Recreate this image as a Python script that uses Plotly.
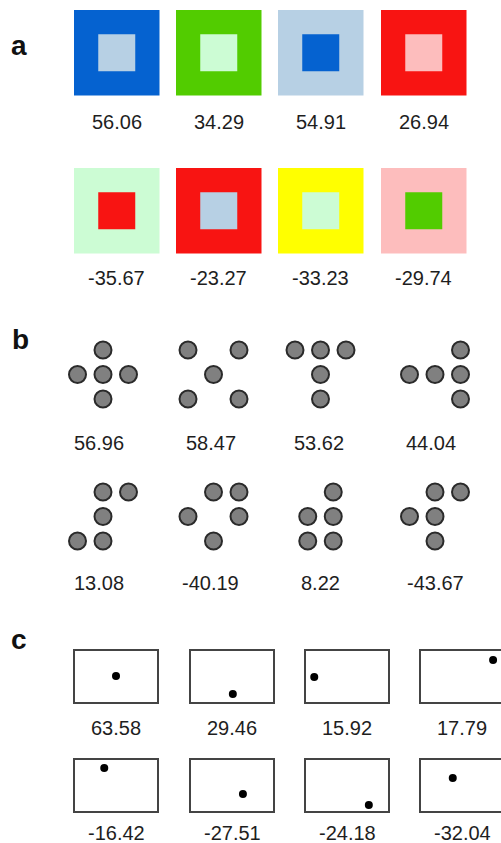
import plotly.graph_objects as go

W, H = 501, 843

# ---------------- data ----------------
# Panel a: outer / inner colours of the nested squares, and their values
a_outer = [["#0562D0", "#52CC00", "#B7D0E4", "#F81412"],
           ["#CCFCD4", "#F81412", "#FFFF00", "#FDBDBD"]]
a_inner = [["#B7D0E4", "#CCFCD4", "#0562D0", "#FDBDBD"],
           ["#F81412", "#B7D0E4", "#CCFCD4", "#52CC00"]]
a_values = [[56.06, 34.29, 54.91, 26.94],
            [-35.67, -23.27, -33.23, -29.74]]

# Panel b: dot patterns as (column, row) cells of a 3x3 grid, and values
b_patterns = [
    [[(1, 0), (0, 1), (1, 1), (2, 1), (1, 2)],
     [(0, 0), (2, 0), (1, 1), (0, 2), (2, 2)],
     [(0, 0), (1, 0), (2, 0), (1, 1), (1, 2)],
     [(2, 0), (0, 1), (1, 1), (2, 1), (2, 2)]],
    [[(1, 0), (2, 0), (1, 1), (0, 2), (1, 2)],
     [(1, 0), (2, 0), (0, 1), (2, 1), (1, 2)],
     [(1, 0), (0, 1), (1, 1), (0, 2), (1, 2)],
     [(1, 0), (2, 0), (0, 1), (1, 1), (1, 2)]],
]
b_values = [[56.96, 58.47, 53.62, 44.04],
            [13.08, -40.19, 8.22, -43.67]]

# Panel c: relative dot position inside each frame (0..1), and values
c_dot_x = [[0.50, 0.51, 0.11, 0.87],
           [0.36, 0.63, 0.76, 0.39]]
c_dot_y = [[0.49, 0.83, 0.51, 0.19],
           [0.17, 0.66, 0.87, 0.36]]
c_values = [[63.58, 29.46, 15.92, 17.79],
            [-16.42, -27.51, -24.18, -32.04]]

panel_labels = ["a", "b", "c"]

# ---------------- layout constants ----------------
FONT = "Liberation Sans, Arial, sans-serif"
TXT = "#1e1e1e"
NUM_SIZE = 20

A_X0 = [74, 176, 278, 381]
A_Y0 = [10, 168]
A_OUT = 85.5
A_IN = 37
A_LABEL_Y = [122, 278]

B_CX = [103, 213.5, 320.5, 435]
B_Y0 = [350, 492]
B_DX, B_DY = 25.5, 24.5
B_LABEL_X = [[99, 211, 319, 431], [99, 210, 320, 435]]
B_LABEL_Y = [443, 583]

C_X0 = [74, 190, 305, 420]
C_Y0 = [650, 759]
C_W, C_H = 84, 53
C_LABEL_Y = [728, 833]

PANEL_POS = [(19, 45), (20, 339), (19, 639)]

fig = go.Figure()
shapes = []
annotations = []


def num_label(x, y, v):
    annotations.append(dict(x=x, y=y, text=f"{v:.2f}", showarrow=False,
                            xanchor="center", yanchor="middle",
                            font=dict(family=FONT, size=NUM_SIZE, color=TXT)))


# Panel a
for r in range(2):
    for c in range(4):
        x0, y0 = A_X0[c], A_Y0[r]
        shapes.append(dict(type="rect", xref="x", yref="y", x0=x0, x1=x0 + A_OUT,
                           y0=y0, y1=y0 + A_OUT, line=dict(width=0),
                           fillcolor=a_outer[r][c], layer="above"))
        m = (A_OUT - A_IN) / 2
        shapes.append(dict(type="rect", xref="x", yref="y", x0=x0 + m, x1=x0 + m + A_IN,
                           y0=y0 + m, y1=y0 + m + A_IN, line=dict(width=0),
                           fillcolor=a_inner[r][c], layer="above"))
        num_label(x0 + A_OUT / 2, A_LABEL_Y[r], a_values[r][c])

# Panel b
bx, by = [], []
for r in range(2):
    for c in range(4):
        pts = b_patterns[r][c]
        cols = [p[0] for p in pts]
        mid = (min(cols) + max(cols)) / 2
        for (gc, gr) in pts:
            bx.append(B_CX[c] + (gc - mid) * B_DX)
            by.append(B_Y0[r] + gr * B_DY)
        num_label(B_LABEL_X[r][c], B_LABEL_Y[r], b_values[r][c])
fig.add_trace(go.Scatter(x=bx, y=by, mode="markers", hoverinfo="skip",
                         marker=dict(size=17, color="#808080",
                                     line=dict(color="#2a2a2a", width=2))))

# Panel c
cx, cy = [], []
for r in range(2):
    for c in range(4):
        x0, y0 = C_X0[c], C_Y0[r]
        shapes.append(dict(type="rect", xref="x", yref="y", x0=x0, x1=x0 + C_W,
                           y0=y0, y1=y0 + C_H, line=dict(width=2, color="#444444"),
                           fillcolor="rgba(0,0,0,0)", layer="below"))
        cx.append(x0 + c_dot_x[r][c] * C_W)
        cy.append(y0 + c_dot_y[r][c] * C_H)
        num_label(x0 + C_W / 2, C_LABEL_Y[r], c_values[r][c])
fig.add_trace(go.Scatter(x=cx, y=cy, mode="markers", hoverinfo="skip",
                         marker=dict(size=8, color="black", line=dict(width=0))))

for lab, (px, py) in zip(panel_labels, PANEL_POS):
    annotations.append(dict(x=px, y=py, text=f"<b>{lab}</b>", showarrow=False,
                            xanchor="center", yanchor="middle",
                            font=dict(family=FONT, size=28, color="#111111")))

fig.update_layout(
    width=W, height=H, margin=dict(l=0, r=0, t=0, b=0),
    paper_bgcolor="white", plot_bgcolor="white", showlegend=False,
    shapes=shapes, annotations=annotations,
    xaxis=dict(range=[0, W], visible=False, fixedrange=True),
    yaxis=dict(range=[H, 0], visible=False, fixedrange=True),
)

fig.write_html(
    "out.html",
    config={"displayModeBar": False},
    post_script="document.body.style.margin='0';document.body.style.overflow='hidden';",
)
